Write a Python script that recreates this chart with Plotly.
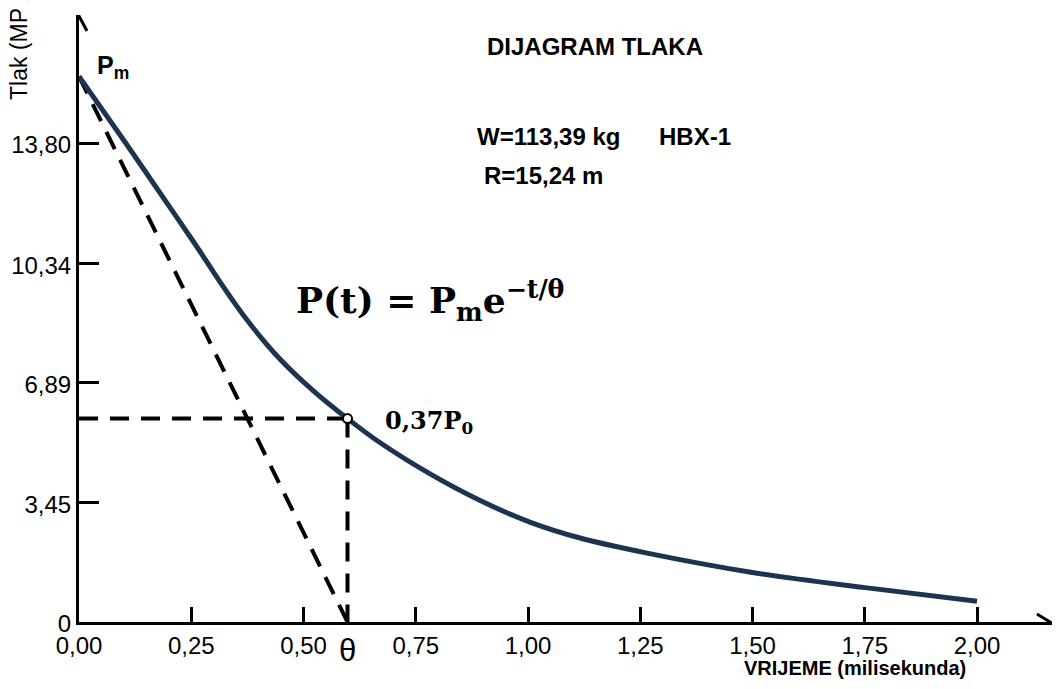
import plotly.graph_objects as go

# ---- data ----
time_ms = [0.0, 0.104, 0.196, 0.261, 0.314, 0.373, 0.448, 0.522, 0.598,
           0.670, 0.780, 0.890, 1.004, 1.116, 1.260, 1.503, 1.751, 2.0]
pressure_mpa = [15.72, 13.80, 12.07, 10.84, 9.80, 8.72, 7.57, 6.66, 5.86,
                5.17, 4.28, 3.52, 2.88, 2.42, 2.00, 1.42, 0.99, 0.60]
theta_ms = 0.598
p_theta = 5.86
x_tick_vals = [0.0, 0.25, 0.5, 0.75, 1.0, 1.25, 1.5, 1.75, 2.0]
x_tick_text = ["0,00", "0,25", "0,50", "0,75", "1,00", "1,25", "1,50", "1,75", "2,00"]
y_tick_vals = [0.0, 3.45, 6.89, 10.34, 13.80]
y_tick_text = ["0", "3,45", "6,89", "10,34", "13,80"]

# ---- layout geometry (page has an 8px body margin) ----
W, H = 1045, 673
ML, MR, MT, MB = 71, 1, 7, 59
PX_PER_MS = 449.0
PX_PER_MPA = 34.71
PLOT_W = W - ML - MR
PLOT_H = H - MT - MB
X_MAX = PLOT_W / PX_PER_MS
Y_MAX = PLOT_H / PX_PER_MPA

SANS = "Liberation Sans, Arial, sans-serif"
SERIF = "DejaVu Serif, serif"
CURVE = "#1d3451"
DASH = "19px,12px"

p_m = pressure_mpa[0]

fig = go.Figure()

# tangent from Pm to theta
fig.add_trace(go.Scatter(x=[0, theta_ms], y=[p_m, 0], mode="lines",
                         line=dict(color="black", width=4, dash=DASH),
                         hoverinfo="skip", showlegend=False))
# horizontal dashed at 0.37 Pm
fig.add_trace(go.Scatter(x=[0, theta_ms], y=[p_theta, p_theta], mode="lines",
                         line=dict(color="black", width=4, dash=DASH),
                         hoverinfo="skip", showlegend=False))
# vertical dashed at theta
fig.add_trace(go.Scatter(x=[theta_ms, theta_ms], y=[p_theta, 0], mode="lines",
                         line=dict(color="black", width=4, dash=DASH),
                         hoverinfo="skip", showlegend=False))
# pressure curve
fig.add_trace(go.Scatter(x=time_ms, y=pressure_mpa, mode="lines",
                         line=dict(color=CURVE, width=5, shape="spline", smoothing=0.9),
                         showlegend=False, cliponaxis=False))
# marker at theta
fig.add_trace(go.Scatter(x=[theta_ms], y=[p_theta], mode="markers",
                         marker=dict(size=9, color="white", line=dict(color="black", width=2)),
                         showlegend=False))

# open arrow heads on both axes
ax_tip = X_MAX - 2 / PX_PER_MS
ay_tip = Y_MAX - 1 / PX_PER_MPA
fig.add_shape(type="path", xref="x", yref="y",
              path=(f"M {ax_tip - 13/PX_PER_MS} {8/PX_PER_MPA} L {ax_tip} 0 "
                    f"L {ax_tip - 13/PX_PER_MS} {-8/PX_PER_MPA}"),
              line=dict(color="black", width=3))
fig.add_shape(type="path", xref="x", yref="y",
              path=(f"M {-8/PX_PER_MS} {ay_tip - 15/PX_PER_MPA} L 0 {ay_tip} "
                    f"L {8/PX_PER_MS} {ay_tip - 15/PX_PER_MPA}"),
              line=dict(color="black", width=3))

def txt(x, y, text, size, family=SANS, xanchor="left", xref="x", yref="y", **kw):
    return dict(x=x, y=y, xref=xref, yref=yref, text=text, showarrow=False,
                xanchor=xanchor, yanchor=kw.pop("yanchor", "middle"),
                font=dict(family=family, size=size, color="black"), **kw)

ann = [
    txt(0.036, 16.0, "<b>P<sub>m</sub></b>", 25),
    txt(1.149, 16.57, "<b>DIJAGRAM TLAKA</b>", 24, xanchor="center"),
    txt(0.882, 14.0, "<b>W=113,39 kg</b>", 24),
    txt(1.287, 14.0, "<b>HBX-1</b>", 24),
    txt(0.897, 12.86, "<b>R=15,24 m</b>", 24),
    txt(0.478, 9.25, "<b>P(t) = P<sub>m</sub>e<sup>−t/θ</sup></b>", 36, family=SERIF),
    txt(theta_ms + 0.079, p_theta - 0.1, "<b>0,37P<sub>0</sub></b>", 24, family=SERIF),
    txt(theta_ms, -28 / PLOT_H, "θ", 31, xanchor="center", yref="paper"),
    txt(1.98, -45.7 / PLOT_H, "<b>VRIJEME (milisekunda)</b>", 20, xanchor="right", yref="paper"),
    txt(-60 / PLOT_W, 520 / PLOT_H, "Tlak (MPa)", 23, xanchor="center",
        xref="paper", yref="paper", yanchor="bottom", textangle=-90),
]

fig.update_layout(
    width=W, height=H,
    margin=dict(l=ML, r=MR, t=MT, b=MB, pad=0),
    paper_bgcolor="white", plot_bgcolor="white",
    annotations=ann,
    xaxis=dict(range=[0, X_MAX], tickvals=x_tick_vals, ticktext=x_tick_text,
               showgrid=False, zeroline=False, showline=True, linecolor="black", linewidth=3,
               ticks="inside", ticklen=15, tickwidth=3, tickcolor="black",
               tickfont=dict(family=SANS, size=24, color="black"), fixedrange=True),
    yaxis=dict(range=[0, Y_MAX], tickvals=y_tick_vals, ticktext=y_tick_text,
               showgrid=False, zeroline=False, showline=True, linecolor="black", linewidth=3,
               ticks="inside", ticklen=20, tickwidth=3, tickcolor="black", ticklabelshift=2,
               tickfont=dict(family=SANS, size=24, color="black"), fixedrange=True),
)

fig.write_html("out.html")
